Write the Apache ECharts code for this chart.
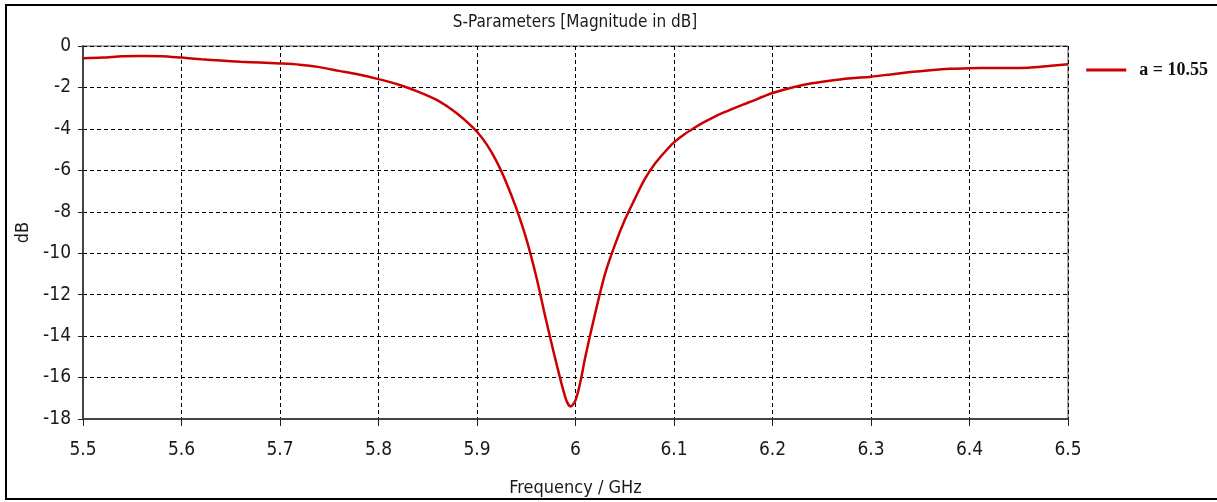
<!DOCTYPE html>
<html>
<head>
<meta charset="utf-8">
<script src="https://cdn.jsdelivr.net/npm/echarts@6/dist/echarts.min.js"></script>
<style>html,body{margin:0;padding:0;background:#fff;}#c{width:1217px;height:502px;}</style>
</head>
<body>
<div id="c"></div>
<script>
const freq = [5.50,5.52,5.54,5.56,5.58,5.60,5.62,5.64,5.66,5.68,5.70,5.72,5.74,5.76,5.78,5.80,5.82,5.84,5.86,5.87,5.88,5.89,5.90,5.91,5.92,5.93,5.94,5.95,5.96,5.97,5.98,5.99,5.995,6.00,6.005,6.01,6.02,6.03,6.04,6.05,6.06,6.07,6.08,6.09,6.10,6.11,6.12,6.13,6.14,6.15,6.16,6.17,6.18,6.19,6.20,6.22,6.24,6.26,6.28,6.30,6.32,6.34,6.36,6.38,6.40,6.42,6.44,6.46,6.48,6.50];
const sdB = [-0.59,-0.56,-0.50,-0.48,-0.49,-0.56,-0.64,-0.70,-0.76,-0.80,-0.84,-0.90,-1.02,-1.20,-1.38,-1.60,-1.86,-2.20,-2.62,-2.92,-3.27,-3.67,-4.14,-4.76,-5.58,-6.62,-7.85,-9.30,-11.10,-13.20,-15.20,-17.00,-17.40,-17.10,-16.20,-15.00,-12.90,-11.00,-9.60,-8.40,-7.40,-6.45,-5.72,-5.15,-4.65,-4.28,-3.97,-3.69,-3.44,-3.22,-3.02,-2.83,-2.65,-2.45,-2.27,-2.00,-1.80,-1.66,-1.56,-1.48,-1.37,-1.26,-1.17,-1.10,-1.07,-1.06,-1.06,-1.05,-0.97,-0.88];
const seriesName = 'a = 10.55';
const titleText = 'S-Parameters [Magnitude in dB]';
const xName = 'Frequency / GHz';
const yName = 'dB';

const labelFont = "'Liberation Sans Narrow','DejaVu Sans Condensed',sans-serif";
const chart = echarts.init(document.getElementById('c'), null, {renderer:'canvas'});
chart.setOption({
  animation: false,
  backgroundColor: '#fff',
  title: {
    text: titleText, left: 570, top: 9, textAlign: 'center',
    textStyle: {fontFamily: labelFont, fontSize: 17, fontWeight: 'normal', color: '#1a1a1a'}
  },
  legend: {
    data: [seriesName], right: 4, top: 56, orient: 'vertical',
    itemWidth: 40, itemHeight: 3, itemGap: 10,
    icon: 'rect',
    textStyle: {fontFamily: "'Liberation Serif','Times New Roman',serif", fontWeight: 'bold', fontSize: 18, color: '#111', padding: [0,0,0,8]}
  },
  graphic: [{
    type: 'rect', shape: {x: 6, y: 5, width: 1230, height: 494},
    style: {fill: 'none', stroke: '#000', lineWidth: 2}, silent: true
  }],
  grid: {left: 83, right: 149, top: 46, bottom: 82, show: true, borderColor: '#555', borderWidth: 1},
  xAxis: {
    type: 'value', min: 5.5, max: 6.5, interval: 0.1,
    name: xName, nameLocation: 'middle', nameGap: 60,
    nameTextStyle: {fontFamily: labelFont, fontSize: 18, color: '#1a1a1a'},
    axisLine: {show: true, onZero: false, lineStyle: {color: '#444', width: 2}},
    axisTick: {show: true, inside: false, length: 7, lineStyle: {color: '#222'}},
    axisLabel: {fontFamily: labelFont, fontSize: 19, color: '#1a1a1a', margin: 22,
      formatter: v => String(parseFloat(v.toFixed(1)))},
    splitLine: {show: true, lineStyle: {color: '#000', type: [4,3], width: 1}}
  },
  yAxis: {
    type: 'value', min: -18, max: 0, interval: 2,
    name: yName, nameLocation: 'middle', nameGap: 46, nameRotate: 90,
    nameTextStyle: {fontFamily: labelFont, fontSize: 18, color: '#1a1a1a'},
    axisLine: {show: true, onZero: false, lineStyle: {color: '#444', width: 2}},
    axisTick: {show: true, inside: false, length: 5, lineStyle: {color: '#222'}},
    axisLabel: {fontFamily: labelFont, fontSize: 19, color: '#1a1a1a', margin: 12},
    splitLine: {show: true, lineStyle: {color: '#000', type: [4,3], width: 1}}
  },
  series: [{
    name: seriesName, type: 'line', data: freq.map((f,i)=>[f, sdB[i]]),
    smooth: 0.3, showSymbol: false, symbol: 'none',
    lineStyle: {color: '#cc0000', width: 2.5}, itemStyle: {color: '#cc0000'}
  }]
});
</script>
</body>
</html>
